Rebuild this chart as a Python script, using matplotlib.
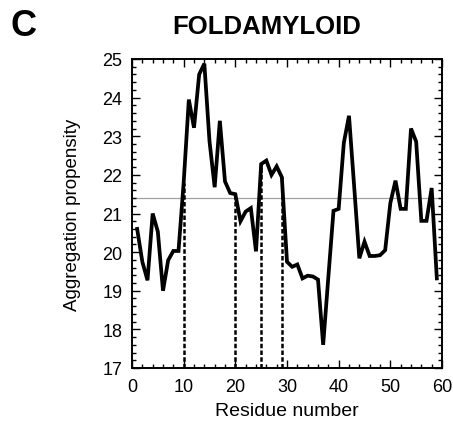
import matplotlib
matplotlib.use("Agg")
import matplotlib.pyplot as plt
from matplotlib.ticker import MultipleLocator

residues = list(range(1, 60))
propensity = [20.6, 19.75, 19.27, 21.0, 20.53, 19.0, 19.79, 20.03, 20.03, 21.8,
              23.95, 23.22, 24.6, 24.88, 22.87, 21.68, 23.4, 21.83, 21.53, 21.5,
              20.8, 21.05, 21.14, 20.02, 22.28, 22.37, 22.0, 22.22, 21.94, 19.75,
              19.62, 19.68, 19.32, 19.39, 19.37, 19.29, 17.6, 19.35, 21.07, 21.12,
              22.83, 23.53, 21.7, 19.84, 20.27, 19.9, 19.9, 19.92, 20.05, 21.27,
              21.85, 21.12, 21.12, 23.2, 22.86, 20.81, 20.81, 21.66, 19.32]
threshold = 21.4
boundaries = [10, 20, 25, 29]

plt.rcParams['font.family'] = ['Liberation Sans', 'DejaVu Sans']

fig = plt.figure(figsize=(4.53, 4.27), dpi=100)
ax = fig.add_axes([132/453, 58/427, 310/453, 309/427])

ax.axhline(threshold, color='#a0a0a0', lw=0.9, zorder=1)
for b in boundaries:
    v = propensity[residues.index(b)]
    ax.plot([b, b], [17, v], color='black', lw=1.8, ls=(0, (1.8, 0.9)), zorder=2)
ax.plot(residues, propensity, color='black', lw=2.7, zorder=3, solid_joinstyle='miter')

ax.set_xlim(0, 60)
ax.set_ylim(17, 25)
ax.xaxis.set_major_locator(MultipleLocator(10))
ax.xaxis.set_minor_locator(MultipleLocator(2))
ax.yaxis.set_major_locator(MultipleLocator(1))
ax.yaxis.set_minor_locator(MultipleLocator(0.2))
ax.tick_params(which='both', direction='in', top=True, right=True, width=1.0, colors='black')
ax.tick_params(which='major', length=6, labelsize=13, pad=7)
ax.tick_params(which='minor', length=3)
for s in ax.spines.values():
    s.set_linewidth(1.4)

ax.set_xlabel('Residue number', fontsize=14, labelpad=5)
ax.set_ylabel('Aggregation propensity', fontsize=13.5, labelpad=15)

fig.text(267/453, 1 - 27/427, 'FOLDAMYLOID', fontsize=18.5, fontweight='bold', ha='center', va='center')
fig.text(11/453, 1 - 26/427, 'C', fontsize=26, fontweight='bold', ha='left', va='center')

fig.savefig('out.png', dpi=100)
